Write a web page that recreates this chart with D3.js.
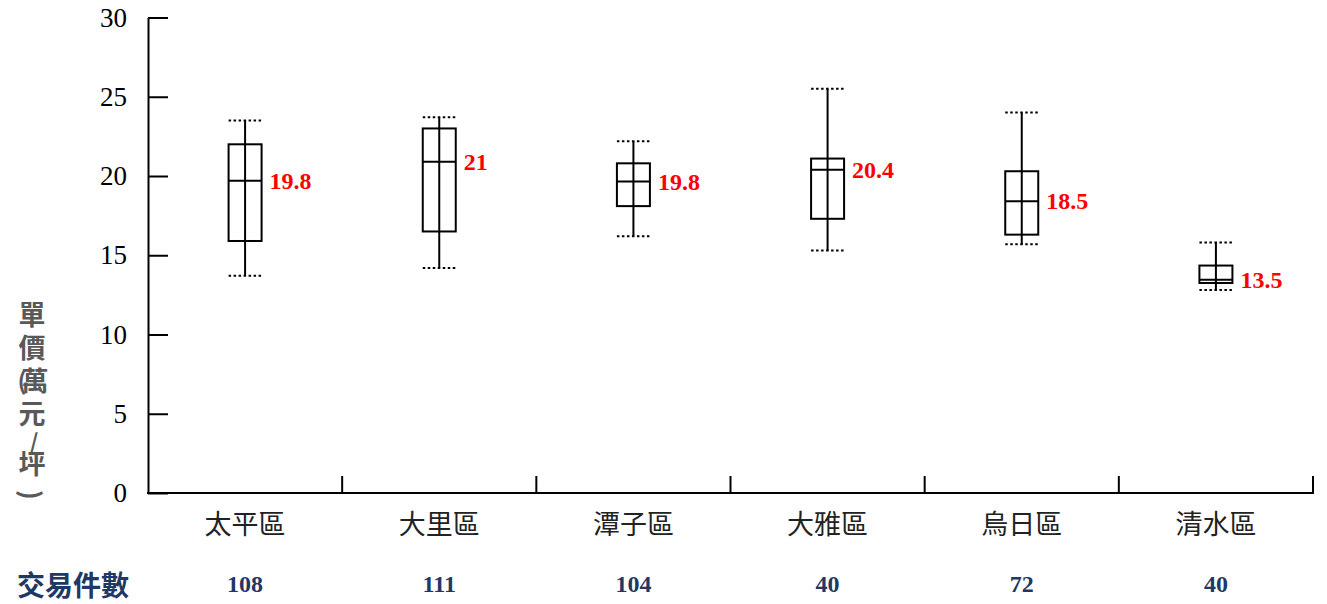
<!DOCTYPE html>
<html><head><meta charset="utf-8">
<script src="https://cdn.jsdelivr.net/npm/d3@7"></script>
<style>body{margin:0;background:#fff} svg{display:block}</style>
</head><body>
<svg id="chart" width="1327" height="604"></svg>
<script>
const categories = ["太平區","大里區","潭子區","大雅區","烏日區","清水區"];
const whiskerHigh = [23.5, 23.7, 22.2, 25.5, 24.0, 15.8];
const q3 = [22.0, 23.0, 20.8, 21.1, 20.3, 14.35];
const medians = [19.7, 20.9, 19.65, 20.4, 18.4, 13.45];
const q1 = [15.9, 16.5, 18.1, 17.3, 16.3, 13.25];
const whiskerLow = [13.7, 14.2, 16.2, 15.3, 15.7, 12.8];
const medianLabels = ["19.8","21","19.8","20.4","18.5","13.5"];
const counts = [108, 111, 104, 40, 72, 40];
const yTicks = [0, 5, 10, 15, 20, 25, 30];
const yTitle = "單價(萬元/坪)";
const countTitle = "交易件數";

const svg = d3.select("#chart");
const x = d3.scaleBand().domain(categories).range([148, 1313]);
const y = d3.scaleLinear().domain([0, 30]).range([493, 17.5]);
const serif = "'Liberation Serif','Times New Roman',serif";
const cjk = "'Noto Sans CJK TC','Noto Sans CJK SC',sans-serif";
const boxW = 33;

// Y axis
const yAxis = svg.append("g").attr("transform", "translate(148,0)")
  .call(d3.axisLeft(y).tickValues(yTicks).tickSizeInner(-20).tickSizeOuter(0).tickPadding(21).tickFormat(d3.format("d")));
yAxis.select(".domain").attr("stroke", "#000").attr("stroke-width", 2);
yAxis.selectAll(".tick line").attr("stroke", "#000").attr("stroke-width", 2);
yAxis.selectAll(".tick text").attr("font-family", serif).attr("font-size", 27).attr("fill", "#000");

// X axis
const xg = svg.append("g");
xg.append("line").attr("x1", x.range()[0] - 1).attr("x2", x.range()[1] + 1)
  .attr("y1", y(0)).attr("y2", y(0)).attr("stroke", "#000").attr("stroke-width", 2);
xg.selectAll("line.tk").data(categories).join("line").attr("class", "tk")
  .attr("x1", d => x(d) + x.bandwidth()).attr("x2", d => x(d) + x.bandwidth())
  .attr("y1", y(0)).attr("y2", y(0) - 17).attr("stroke", "#000").attr("stroke-width", 2);
xg.selectAll("text.cat").data(categories).join("text").attr("class", "cat")
  .attr("x", d => x(d) + x.bandwidth() / 2).attr("y", 522)
  .attr("text-anchor", "middle").attr("dominant-baseline", "central")
  .attr("font-family", cjk).attr("font-size", 27).attr("fill", "#222").text(d => d);

// Boxes
const data = categories.map((c, i) => ({c, hi: whiskerHigh[i], q3: q3[i], med: medians[i], q1: q1[i], lo: whiskerLow[i], label: medianLabels[i], n: counts[i]}));
const g = svg.append("g").selectAll("g").data(data).join("g")
  .attr("transform", d => `translate(${x(d.c) + x.bandwidth() / 2},0)`);
g.append("line").attr("x1", 0).attr("x2", 0).attr("y1", d => y(d.hi)).attr("y2", d => y(d.lo))
  .attr("stroke", "#000").attr("stroke-width", 2);
g.append("rect").attr("x", -boxW / 2).attr("width", boxW)
  .attr("y", d => y(d.q3)).attr("height", d => y(d.q1) - y(d.q3))
  .attr("fill", "none").attr("stroke", "#000").attr("stroke-width", 2);
g.append("line").attr("x1", -boxW / 2).attr("x2", boxW / 2).attr("y1", d => y(d.med)).attr("y2", d => y(d.med))
  .attr("stroke", "#000").attr("stroke-width", 2);
["hi", "lo"].forEach(k => {
  g.append("line").attr("x1", -boxW / 2).attr("x2", boxW / 2).attr("y1", d => y(d[k])).attr("y2", d => y(d[k]))
    .attr("stroke", "#000").attr("stroke-width", 2).attr("stroke-dasharray", "2.5,2.5");
});
g.append("text").attr("x", boxW / 2 + 8).attr("y", d => y(d.med)).attr("dominant-baseline", "central")
  .attr("font-family", serif).attr("font-weight", "bold").attr("font-size", 24).attr("fill", "#ff0000")
  .text(d => d.label);
g.append("text").attr("x", 0).attr("y", 584).attr("text-anchor", "middle").attr("dominant-baseline", "central")
  .attr("font-family", serif).attr("font-weight", "bold").attr("font-size", 24).attr("fill", "#1f3864")
  .text(d => d.n);

// Count title
svg.append("text").attr("x", 17).attr("y", 584).attr("dominant-baseline", "central")
  .attr("font-family", cjk).attr("font-weight", "bold").attr("font-size", 28).attr("fill", "#1f3864")
  .text(countTitle);

// Y title: stacked glyphs (CJK upright, brackets narrow)
const glyphs = Array.from(yTitle);
let cy = 300;
const placed = [];
glyphs.forEach((ch, i) => {
  if (ch === "(") { placed.push({ch, x: 22, y: cy + 13, rot: 0, fs: 24}); return; }
  if (ch === "/") { placed.push({ch, x: 34, y: cy + 8, rot: 0, fs: 22}); cy += 17; return; }
  if (ch === ")") { placed.push({ch, x: 32, y: cy + 13, rot: 90, fs: 26}); cy += 26; return; }
  const isAfterParen = i > 0 && glyphs[i - 1] === "(";
  placed.push({ch, x: isAfterParen ? 35 : 32, y: cy + 13, rot: 0, fs: 27});
  cy += 33;
});
svg.append("g").selectAll("text").data(placed).join("text")
  .attr("transform", d => `translate(${d.x},${d.y}) rotate(${d.rot})`)
  .attr("text-anchor", "middle").attr("dominant-baseline", "central")
  .attr("font-family", cjk).attr("font-weight", "bold").attr("font-size", d => d.fs).attr("fill", "#595959")
  .text(d => d.ch);
</script>
</body></html>
